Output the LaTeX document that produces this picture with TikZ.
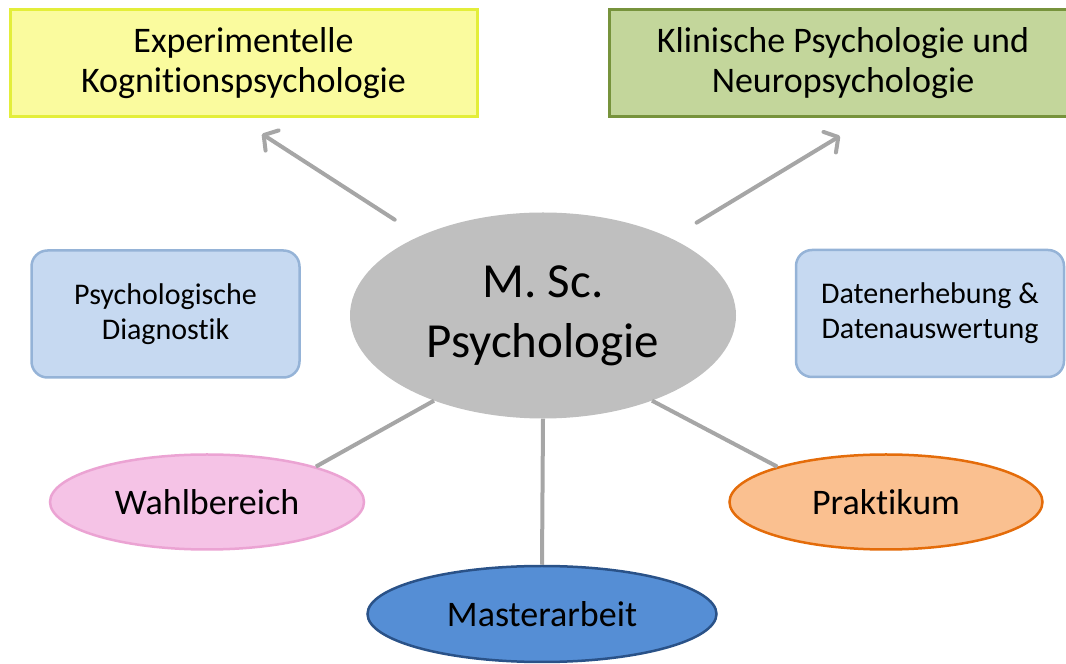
\documentclass[tikz,border=0pt]{standalone}
\usepackage{fontspec}
\setmainfont{Carlito}[RawFeature={-liga;-clig;-calt;-dlig}]
\usetikzlibrary{arrows.meta,shapes.geometric}
\definecolor{expfill}{HTML}{FAFB9E}
\definecolor{expline}{HTML}{E3EE3A}
\definecolor{klinfill}{HTML}{C3D69B}
\definecolor{klinline}{HTML}{77933C}
\definecolor{boxfill}{HTML}{C6D9F1}
\definecolor{boxline}{HTML}{95B3D7}
\definecolor{hubfill}{HTML}{BFBFBF}
\definecolor{wahlfill}{HTML}{F5C3E6}
\definecolor{wahlline}{HTML}{EBA3D3}
\definecolor{prakfill}{HTML}{FAC090}
\definecolor{prakline}{HTML}{E46C0A}
\definecolor{mafill}{HTML}{558ED5}
\definecolor{maline}{HTML}{2A5288}
\definecolor{linkgray}{HTML}{A6A6A6}
\tikzset{
  titlebox/.style={
    draw,
    line width=3pt,
    minimum height=107pt,
    align=center,
    font=\fontsize{36}{40}\selectfont
  },
  sidebox/.style={
    draw=boxline,
    fill=boxfill,
    line width=2.5pt,
    rounded corners=16pt,
    minimum width=268pt,
    minimum height=127pt,
    align=center,
    font=\fontsize{30}{35}\selectfont
  },
  hub/.style={
    shape=ellipse,
    fill=hubfill,
    inner sep=0pt,
    minimum width=386pt,
    minimum height=206pt,
    align=center,
    font=\fontsize{49}{60}\selectfont
  },
  topic/.style={
    shape=ellipse,
    draw,
    line width=2.5pt,
    inner sep=0pt,
    minimum height=95pt,
    font=\fontsize{36}{40}\selectfont
  },
  link/.style={
    draw=linkgray,
    line width=4pt
  },
  arrowlink/.style={
    link,
    line cap=round,
    -{Straight Barb[length=10pt,width=24pt,round]},
    shorten <=30pt
  }
}

\begin{document}
\begin{tikzpicture}[x=1pt,y=1pt]
    \useasboundingbox (0,0) rectangle (1066,664);
    \clip (0,0) rectangle (1066,664);

    % research areas
    \node[titlebox, draw=expline, fill=expfill, minimum width=467pt] (exp) at (243.5,600.5) {Experimentelle\\Kognitionspsychologie};
    \node[titlebox, draw=klinline, fill=klinfill, minimum width=468pt] (klin) at (843,600.5) {Klinische Psychologie und\\Neuropsychologie};

    % modules
    \node[sidebox] (diag) at (165.5,350) {Psychologische\\Diagnostik};
    \node[sidebox] (daten) at (930,350.5) {Datenerhebung \&\\Datenauswertung};

    \node[hub] (msc) at (543,348.5) {M. Sc.\\Psychologie};

    \node[topic, draw=wahlline, fill=wahlfill, minimum width=314pt] (wahl) at (207,162) {Wahlbereich};
    \node[topic, draw=prakline, fill=prakfill, minimum width=313pt] (prak) at (886,162) {Praktikum};
    \node[topic, draw=maline, fill=mafill, minimum width=349pt, minimum height=96pt] (master) at (542,50) {Masterarbeit};

    % connectors
    \coordinate (expTip) at (262,530);
    \coordinate (klinTip) at (840,528);
    \draw[arrowlink] (msc) -- (expTip);
    \draw[arrowlink] (msc) -- (klinTip);

    \draw[link] (msc.218) -- (wahl.18);
    \draw[link] (msc.south) -- (master.north);
    \draw[link] (msc.322) -- (prak.162);
\end{tikzpicture}
\end{document}
